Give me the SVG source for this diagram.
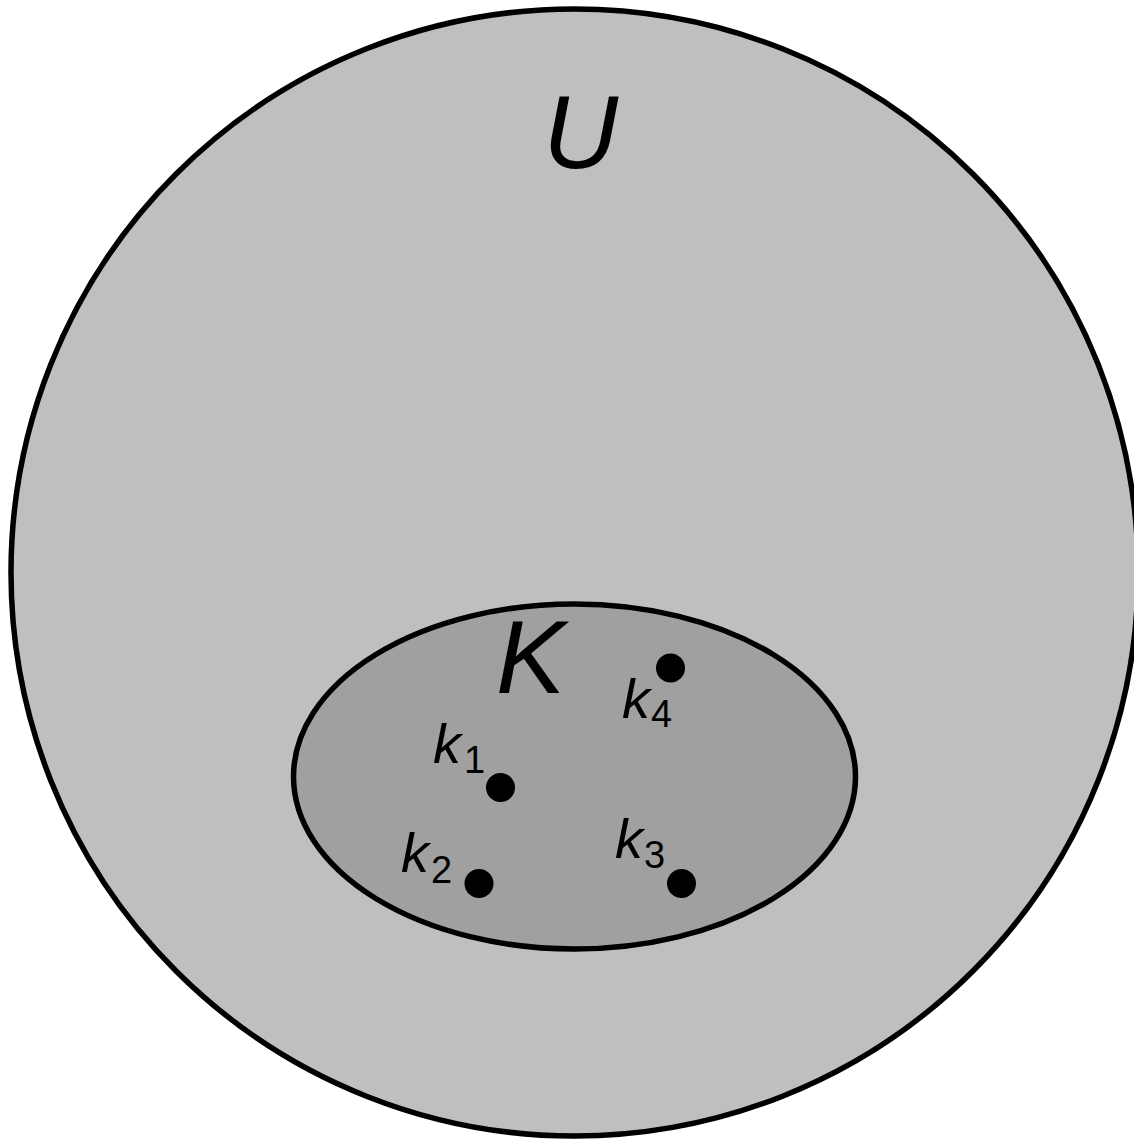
<svg xmlns="http://www.w3.org/2000/svg" width="1134" height="1140" viewBox="0 0 1134 1140">
<style>
.set{stroke:#000;stroke-width:5.5}
.big{font-family:"Liberation Sans",Arial,sans-serif;font-style:italic;font-size:104px;fill:#000}
.lab{font-family:"Liberation Sans",Arial,sans-serif;font-size:56px;fill:#000}
.it{font-style:italic}
.sub{font-size:38px;font-style:normal}
.dot{fill:#000}
</style>
<rect width="1134" height="1140" fill="#fff"/>
<g id="U">
<circle class="set" cx="574.5" cy="572.5" r="563.5" fill="#bfbfbf"/>
<text class="big" x="543" y="168">U</text>
</g>
<g id="K">
<ellipse class="set" cx="574.5" cy="776.5" rx="281" ry="172.5" fill="#a0a0a0"/>
<text class="big" x="496" y="693">K</text>
</g>
<g id="k1">
<circle class="dot" cx="500.5" cy="787.5" r="14.5"/>
<text class="lab" x="433" y="763"><tspan class="it">k</tspan><tspan class="sub" x="464" y="773">1</tspan></text>
</g>
<g id="k2">
<circle class="dot" cx="479" cy="883.5" r="14.5"/>
<text class="lab" x="401" y="872"><tspan class="it">k</tspan><tspan class="sub" x="431" y="883">2</tspan></text>
</g>
<g id="k3">
<circle class="dot" cx="681.5" cy="883.5" r="14.5"/>
<text class="lab" x="615" y="858"><tspan class="it">k</tspan><tspan class="sub" x="644" y="868">3</tspan></text>
</g>
<g id="k4">
<circle class="dot" cx="670.5" cy="668" r="14.5"/>
<text class="lab" x="622" y="718"><tspan class="it">k</tspan><tspan class="sub" x="651" y="727">4</tspan></text>
</g>
<g id="connectors"/>
</svg>
